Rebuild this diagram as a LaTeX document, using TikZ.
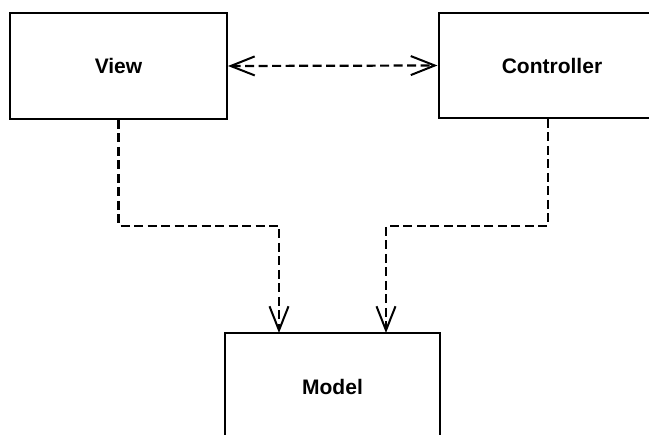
\documentclass[tikz,border=0pt]{standalone}
\usepackage{fontspec}
\setmainfont{Liberation Sans}
\usetikzlibrary{arrows.meta}
\begin{document}
\begin{tikzpicture}[x=1pt,y=-1pt,
  box/.style={draw=black, line width=2pt, fill=white, inner sep=0pt,
    font=\bfseries\fontsize{21}{25}\selectfont},
  dline/.style={draw=black, line width=2.2pt, dash pattern=on 9pt off 4.5pt},
  barb/.tip={Straight Barb[length=24pt,width=19pt,line width=2pt]}]
\useasboundingbox (0,0) rectangle (649,435);
\clip (0,0) rectangle (649,435);
\node[box, minimum width=217pt, minimum height=106pt] (view) at (118.5,66) {View};
\node[box, minimum width=219pt, minimum height=105pt] (ctrl) at (548,65.5) {\hspace*{8pt}Controller};
\node[box, minimum width=215pt, minimum height=107pt] (model) at (332.5,386.5) {Model};
\coordinate (jL) at (279,226);
\coordinate (jR) at (386,226);
\coordinate (mL) at (279,333);
\coordinate (mR) at (386,333);
\draw[dline, {barb}-{barb}] (view.east) -- (ctrl.west);
\draw[dline, -{barb}] (view.south) -- (view.south |- jL) -- (jL) -- (mL);
\draw[dline, -{barb}] (ctrl.south) -- (ctrl.south |- jR) -- (jR) -- (mR);
\end{tikzpicture}
\end{document}
